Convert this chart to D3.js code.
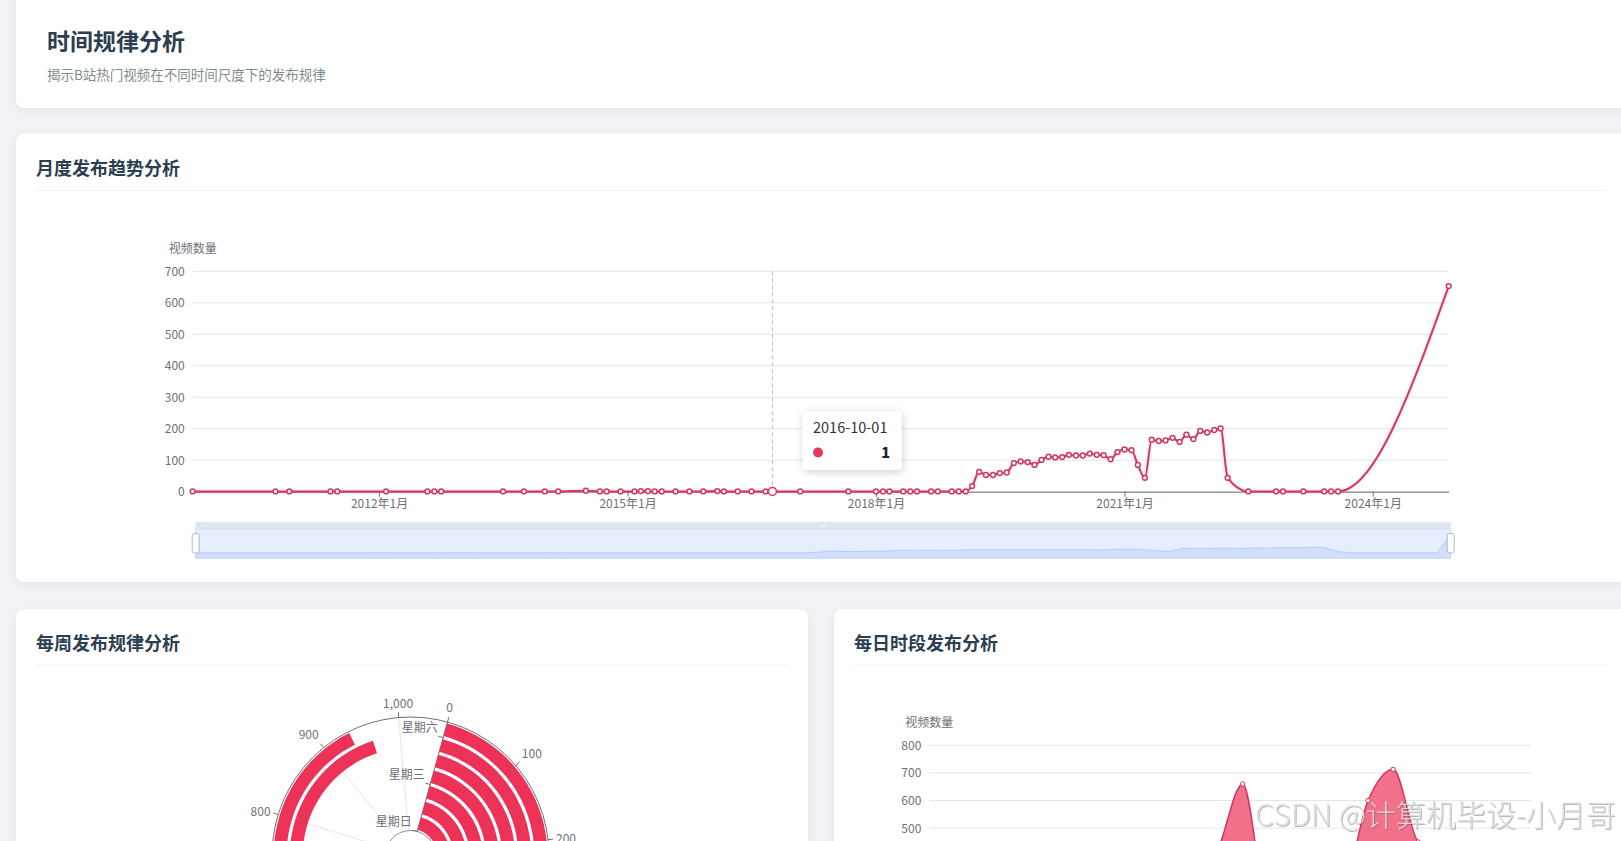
<!DOCTYPE html>
<html><head><meta charset="utf-8">
<script src="https://cdn.jsdelivr.net/npm/d3@7"></script>
<style>html,body{margin:0;padding:0;background:#f0f2f5;overflow:hidden}svg{display:block}</style>
</head><body>
<svg id="c" width="1621" height="841"></svg>
<script>
// ---------------- DATA ----------------
const pageTitle = '时间规律分析';
const pageSubtitle = '揭示B站热门视频在不同时间尺度下的发布规律';
const cardTitles = ['月度发布趋势分析', '每周发布规律分析', '每日时段发布分析'];
const yAxisName = '视频数量';

const monthlyDates = ['2009-10','2010-10','2010-12','2011-06','2011-07','2012-02','2012-08','2012-09','2012-10',
 '2013-07','2013-10','2014-01','2014-03','2014-07','2014-09','2014-10','2014-12','2015-02','2015-03','2015-04',
 '2015-05','2015-06','2015-08','2015-10','2015-12','2016-02','2016-03','2016-05','2016-07','2016-09','2016-10',
 '2017-02','2017-09','2018-01','2018-02','2018-03','2018-05','2018-06','2018-07','2018-09','2018-10','2018-12',
 '2019-01','2019-02','2019-03','2019-04','2019-05','2019-06','2019-07','2019-08','2019-09','2019-10','2019-11',
 '2019-12','2020-01','2020-02','2020-03','2020-04','2020-05','2020-06','2020-07','2020-08','2020-09','2020-10',
 '2020-11','2020-12','2021-01','2021-02','2021-03','2021-04','2021-05','2021-06','2021-07','2021-08','2021-09',
 '2021-10','2021-11','2021-12','2022-01','2022-02','2022-03','2022-04','2022-07','2022-11','2022-12','2023-03',
 '2023-06','2023-07','2023-08','2024-12'];
const monthlyCounts = [1,1,1,1,1,1,1,1,1,
 1,1,1,1,3,1,1,1,1,2,2,
 1,1,1,1,1,2,1,1,1,1,1,
 1,1,1,1,1,1,1,1,1,1,1,
 1,1,18,63,53,53,59,61,91,96,94,
 85,101,111,109,110,117,115,115,121,117,116,
 103,126,134,132,85,44,165,161,163,171,158,
 181,167,193,188,196,201,44,1,1,1,1,
 1,1,1,653];
const monthlyYTicks = [0,100,200,300,400,500,600,700];
const monthlyXTicks = ['2012-01','2015-01','2018-01','2021-01','2024-01'];
const tooltipDate = '2016-10';

const weekdays = ['星期日','星期一','星期二','星期三','星期四','星期五','星期六'];
const weekdayCounts = [735,700,690,705,720,961,936];
const angleTicks = [0,100,200,300,400,500,600,700,800,900,1000];

const hours = ['00','01','02','03','04','05','06','07','08','09','10','11','12','13','14','15','16','17','18','19','20','21','22','23'];
const hourCounts = [120,70,40,20,12,15,30,70,140,210,280,420,660,230,260,290,300,600,713,450,400,350,280,190];
const hourYTicks = [0,100,200,300,400,500,600,700,800];

const watermark = 'CSDN @计算机毕设-小月哥';

// ---------------- SETUP ----------------
const W = 1621, H = 841;
const FONT = "'Microsoft YaHei','Noto Sans CJK SC','Noto Sans',sans-serif";
const AXIS = '#6E7079', GRID = '#E0E6F1';
const svg = d3.select('#c').style('font-family', FONT);
const defs = svg.append('defs');
const cs = defs.append('filter').attr('id','cardShadow').attr('x','-5%').attr('y','-10%').attr('width','110%').attr('height','130%');
cs.append('feDropShadow').attr('dx',0).attr('dy',2).attr('stdDeviation',4).attr('flood-color','#000').attr('flood-opacity',0.05);
const ts = defs.append('filter').attr('id','tipShadow').attr('x','-30%').attr('y','-30%').attr('width','160%').attr('height','160%');
ts.append('feDropShadow').attr('dx',1).attr('dy',2).attr('stdDeviation',4).attr('flood-color','#000').attr('flood-opacity',0.18);
const gl = defs.append('filter').attr('id','lineGlow').attr('x','-5%').attr('y','-20%').attr('width','110%').attr('height','140%');
gl.append('feDropShadow').attr('dx',0).attr('dy',0).attr('stdDeviation',1.5).attr('flood-color','#f06a8a').attr('flood-opacity',0.35);
const wm = defs.append('filter').attr('id','wmShadow').attr('x','-5%').attr('y','-20%').attr('width','110%').attr('height','140%');
wm.append('feDropShadow').attr('dx',1).attr('dy',1).attr('stdDeviation',0.6).attr('flood-color','#555').attr('flood-opacity',0.45);

svg.append('rect').attr('width',W).attr('height',H).attr('fill','#f0f2f5');

// cards
const cards = [
  {x:16,y:-20,w:1640,h:128},
  {x:16,y:133.5,w:1610,h:448.5},
  {x:16,y:609,w:792,h:300},
  {x:834,y:609,w:800,h:300}
];
svg.selectAll('rect.card').data(cards).join('rect').attr('class','card')
  .attr('x',d=>d.x).attr('y',d=>d.y).attr('width',d=>d.w).attr('height',d=>d.h)
  .attr('rx',8).attr('fill','#fff').attr('filter','url(#cardShadow)');

svg.append('text').attr('x',47).attr('y',50).attr('font-size',23).attr('font-weight',700)
  .attr('fill','#2c3e50').text(pageTitle);
svg.append('text').attr('x',47).attr('y',80).attr('font-size',13.5).attr('fill','#7f8c8d').text(pageSubtitle);

const titlePos = [{x:36,y:175,dx1:36,dx2:1606,dy:190.5},{x:36,y:649.5,dx1:36,dx2:788,dy:665},{x:854,y:649.5,dx1:854,dx2:1606,dy:665}];
titlePos.forEach((p,i)=>{
  svg.append('text').attr('x',p.x).attr('y',p.y).attr('font-size',18).attr('font-weight',700)
    .attr('fill','#2c3e50').text(cardTitles[i]);
  svg.append('line').attr('x1',p.dx1).attr('x2',p.dx2).attr('y1',p.dy).attr('y2',p.dy)
    .attr('stroke','#eef0f4').attr('stroke-width',1);
});

// ---------------- MONTHLY LINE CHART ----------------
const parse = d3.timeParse('%Y-%m');
const mData = monthlyDates.map((d,i)=>({date:parse(d), v:monthlyCounts[i]}));
const mL = 192.7, mR = 1448.7;
const mx = d3.scaleTime().domain(d3.extent(mData,d=>d.date)).range([mL,mR]);
const my = d3.scaleLinear().domain([0,700]).range([491.7,271.3]);
const mg = svg.append('g');

mg.selectAll('line.grid').data(monthlyYTicks).join('line')
  .attr('x1',mL).attr('x2',mR).attr('y1',d=>my(d)).attr('y2',d=>my(d)).attr('stroke',GRID);

const yAx = mg.append('g').attr('transform',`translate(${mL},0)`)
  .call(d3.axisLeft(my).tickValues(monthlyYTicks).tickSize(0).tickPadding(8));
yAx.select('.domain').remove();
yAx.selectAll('text').attr('fill',AXIS).attr('font-size',12).attr('font-family',FONT);

mg.append('text').attr('x',mL).attr('y',252.5).attr('text-anchor','middle').attr('font-size',12)
  .attr('fill',AXIS).text(yAxisName);

const xAx = mg.append('g').attr('transform',`translate(0,${my(0)})`)
  .call(d3.axisBottom(mx).tickValues(monthlyXTicks.map(parse))
    .tickFormat(d=>`${d.getFullYear()}年${d.getMonth()+1}月`).tickSizeInner(5).tickSizeOuter(0).tickPadding(3));
xAx.select('.domain').attr('stroke',AXIS);
xAx.selectAll('line').attr('stroke',AXIS);
xAx.selectAll('text').attr('fill',AXIS).attr('font-size',12).attr('font-family',FONT);

// axis pointer
const tipD = parse(tooltipDate);
mg.append('line').attr('x1',mx(tipD)).attr('x2',mx(tipD)).attr('y1',my(700)).attr('y2',my(0))
  .attr('stroke','#b9bec9').attr('stroke-dasharray','4,3');

const LINE = '#cf3a60';
mg.append('path').datum(mData)
  .attr('d',d3.line().x(d=>mx(d.date)).y(d=>my(d.v)).curve(d3.curveMonotoneX))
  .attr('fill','none').attr('stroke',LINE).attr('stroke-width',2).attr('filter','url(#lineGlow)');
mg.selectAll('circle.pt').data(mData).join('circle')
  .attr('cx',d=>mx(d.date)).attr('cy',d=>my(d.v))
  .attr('r',d=>+d.date===+tipD?4:2.4)
  .attr('fill','#fff').attr('stroke',LINE).attr('stroke-width',1.5);

// dataZoom slider
const sL = mL+3, sR = mR+2;
const sTop = 529, sBot = 558.3;
const sg = svg.append('g');
sg.append('rect').attr('x',sL).attr('y',sTop).attr('width',sR-sL).attr('height',sBot-sTop)
  .attr('fill','rgba(135,175,255,0.2)').attr('stroke','#d2dbee');
const ext = d3.extent(monthlyCounts); const off = (ext[1]-ext[0])*0.3;
const shx = d3.scaleLinear().domain([0,monthlyCounts.length-1]).range([sL,sR]);
const shy = d3.scaleLinear().domain([ext[0]-off, ext[1]+off]).range([sBot,sTop]);
sg.append('path').datum(monthlyCounts)
  .attr('d',d3.area().x((d,i)=>shx(i)).y0(sBot).y1(d=>shy(d)))
  .attr('fill','#8fb0f7').attr('fill-opacity',0.25);
sg.append('path').datum(monthlyCounts)
  .attr('d',d3.line().x((d,i)=>shx(i)).y(d=>shy(d)))
  .attr('fill','none').attr('stroke','#8fb0f7').attr('stroke-opacity',0.6).attr('stroke-width',0.8);
sg.append('rect').attr('x',sL).attr('y',sTop-7).attr('width',sR-sL).attr('height',7)
  .attr('fill','#d2dbee').attr('opacity',0.7);
const midX = (sL+sR)/2;
[-1.5,0,1.5].forEach(o=>sg.append('line').attr('x1',midX+o).attr('x2',midX+o).attr('y1',sTop-5).attr('y2',sTop-2)
  .attr('stroke','#fff').attr('stroke-width',0.8));
[sL,sR].forEach(x=>{
  sg.append('rect').attr('x',x-3.5).attr('y',sTop+4.5).attr('width',7).attr('height',19.5).attr('rx',2)
    .attr('fill','#fff').attr('stroke','#acb8d1').attr('stroke-width',1);
});

// tooltip
const tg = svg.append('g');
tg.append('rect').attr('x',802.5).attr('y',411).attr('width',99).attr('height',59).attr('rx',4)
  .attr('fill','#fff').attr('filter','url(#tipShadow)');
tg.append('text').attr('x',813).attr('y',433).attr('font-size',14.5).attr('fill','#333')
  .text(d3.timeFormat('%Y-%m-%d')(tipD));
tg.append('circle').attr('cx',818).attr('cy',452.5).attr('r',5).attr('fill','#e8375a');
tg.append('text').attr('x',890).attr('y',457.5).attr('text-anchor','end').attr('font-size',14.5)
  .attr('font-weight',900).attr('fill','#222')
  .text(mData.find(d=>+d.date===+tipD).v);

// ---------------- WEEKLY POLAR BAR ----------------
const pcx = 410.5, pcy = 855.5, r0 = 25, R = 138.5;
const pg = svg.append('g').attr('transform',`translate(${pcx},${pcy})`);
const start = 15.5*Math.PI/180;
const ang = d3.scaleLinear().domain([0,1060]).range([start, start+2*Math.PI]);
const rad = d3.scaleBand().domain(weekdays).range([r0,R]).paddingInner(0.2).paddingOuter(0.1);
const step = rad.step();
// split lines
pg.selectAll('line.sp').data(angleTicks).join('line')
  .attr('x1',d=>r0*Math.sin(ang(d))).attr('y1',d=>-r0*Math.cos(ang(d)))
  .attr('x2',d=>R*Math.sin(ang(d))).attr('y2',d=>-R*Math.cos(ang(d)))
  .attr('stroke',GRID);
pg.append('circle').attr('r',R).attr('fill','none').attr('stroke',AXIS).attr('stroke-width',1);
pg.append('circle').attr('r',r0).attr('fill','none').attr('stroke',AXIS).attr('stroke-width',0.8);
// angle ticks and labels
pg.selectAll('line.at').data(angleTicks).join('line')
  .attr('x1',d=>R*Math.sin(ang(d))).attr('y1',d=>-R*Math.cos(ang(d)))
  .attr('x2',d=>(R+5)*Math.sin(ang(d))).attr('y2',d=>-(R+5)*Math.cos(ang(d)))
  .attr('stroke',AXIS);
const fmt = d3.format(',');
angleTicks.forEach(t=>{
  const a = ang(t), lr = R+8;
  const px = lr*Math.sin(a), py = -lr*Math.cos(a);
  const ax = Math.abs(px)/lr < 0.3 ? 'middle' : (px>0?'start':'end');
  let yy = py + 4.3;
  if (Math.abs(py)/lr >= 0.3) yy = py>0 ? py+11 : py-2;
  if (pcy + yy - 10 > H) return; // label lies fully below the visible page
  pg.append('text').attr('x',px).attr('y',yy).attr('text-anchor',ax).attr('font-size',12)
    .attr('fill',AXIS).text(fmt(t));
});
// radius axis line
pg.append('line').attr('x1',r0*Math.sin(start)).attr('y1',-r0*Math.cos(start))
  .attr('x2',R*Math.sin(start)).attr('y2',-R*Math.cos(start)).attr('stroke',AXIS);
// bars
pg.selectAll('path.bar').data(weekdays).join('path')
  .attr('d',(d,i)=>d3.arc()({innerRadius:rad(d),outerRadius:rad(d)+rad.bandwidth(),
    startAngle:ang(0),endAngle:ang(weekdayCounts[i])}))
  .attr('fill','#ed3258');
// radius ticks + labels (every third category)
const perp = [-Math.cos(start), -Math.sin(start)];
weekdays.forEach((d,i)=>{
  if (i%3!==0) return;
  const rb = r0 + i*step;
  const bx = rb*Math.sin(start), by = -rb*Math.cos(start);
  pg.append('line').attr('x1',bx).attr('y1',by).attr('x2',bx+5*perp[0]).attr('y2',by+5*perp[1]).attr('stroke',AXIS);
  const rc = r0 + (i+0.5)*step;
  const cx = rc*Math.sin(start)+8*perp[0], cy = -rc*Math.cos(start)+8*perp[1];
  pg.append('text').attr('x',cx).attr('y',cy+4.3).attr('text-anchor','end').attr('font-size',12)
    .attr('fill',AXIS).text(d);
});

// ---------------- HOURLY AREA CHART ----------------
const hL = 929.3, hR = 1531;
const hx = d3.scalePoint().domain(hours).range([hL,hR]).padding(0.5);
const hy = d3.scaleLinear().domain([0,800]).range([966.3,745.3]);
const hg = svg.append('g');
hg.selectAll('line.grid').data(hourYTicks).join('line')
  .attr('x1',hL).attr('x2',hR).attr('y1',d=>hy(d)).attr('y2',d=>hy(d)).attr('stroke',GRID);
const visibleHourTicks = hourYTicks.filter(t=>hy(t) + 6 < H);
const hyAx = hg.append('g').attr('transform',`translate(${hL},0)`)
  .call(d3.axisLeft(hy).tickValues(visibleHourTicks).tickSize(0).tickPadding(8));
hyAx.select('.domain').remove();
hyAx.selectAll('text').attr('fill',AXIS).attr('font-size',12).attr('font-family',FONT);
hg.append('text').attr('x',hL).attr('y',727).attr('text-anchor','middle').attr('font-size',12)
  .attr('fill',AXIS).text(yAxisName);
const hData = hours.map((h,i)=>({h, v:hourCounts[i]}));
hg.append('path').datum(hData)
  .attr('d',d3.area().x(d=>hx(d.h)).y0(hy(0)).y1(d=>hy(d.v)).curve(d3.curveMonotoneX))
  .attr('fill','#f2708a');
hg.append('path').datum(hData)
  .attr('d',d3.line().x(d=>hx(d.h)).y(d=>hy(d.v)).curve(d3.curveMonotoneX))
  .attr('fill','none').attr('stroke','#d4355c').attr('stroke-width',1.5);
hg.selectAll('circle').data(hData).join('circle')
  .attr('cx',d=>hx(d.h)).attr('cy',d=>hy(d.v)).attr('r',2.2)
  .attr('fill','#fff').attr('stroke','#d4355c').attr('stroke-width',1);

// watermark
svg.append('text').attr('x',1616).attr('y',826).attr('text-anchor','end').attr('font-size',30)
  .attr('font-weight',300).attr('fill','#dcdcdc').attr('fill-opacity',0.9)
  .attr('filter','url(#wmShadow)').text(watermark);
</script>
</body></html>
